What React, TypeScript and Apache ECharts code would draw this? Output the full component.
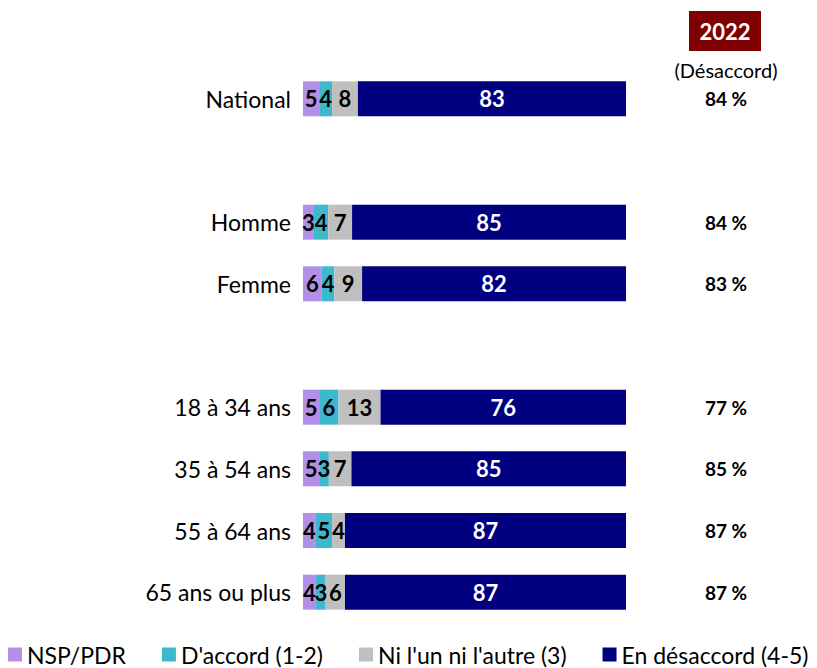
import React, { useEffect, useRef } from "react";
import * as echarts from "echarts";

const categories = ["National", " ", "Homme", "Femme", "  ", "18 à 34 ans", "35 à 54 ans", "55 à 64 ans", "65 ans ou plus"];
const seriesNames = ["NSP/PDR", "D'accord (1-2)", "Ni l'un ni l'autre (3)", "En désaccord (4-5)"];
// Unrounded shares (labels show rounded values)
const nspValues = [5, null, 3.4, 5.8, null, 5, 5, 4, 4];
const accordValues = [4, null, 4.4, 3.9, null, 6, 3, 5, 3];
const neutreValues = [8, null, 7.4, 8.6, null, 13, 7, 4, 6];
const desaccordValues = [83, null, 84.8, 81.7, null, 76, 85, 87, 87];
const desaccord2022 = [84, null, 84, 83, null, 77, 85, 87, 87];
const colors = ["#B28FE8", "#3DB8CD", "#BFBFBF", "#000080"];
const FONT = "Lato, 'Noto Sans', sans-serif";

export default function App() {
  const ref = useRef<HTMLDivElement>(null);
  useEffect(() => {
    if (!ref.current) return;
    const chart = echarts.init(ref.current, null, { renderer: "svg" });
    const valueSets = [nspValues, accordValues, neutreValues, desaccordValues];
    const barSeries = valueSets.map((vals, i) => ({
      name: seriesNames[i],
      type: "bar",
      stack: "total",
      xAxisIndex: 0,
      yAxisIndex: 0,
      barWidth: 35,
      itemStyle: { color: colors[i] },
      label: {
        show: true,
        position: "inside",
        color: i === 3 ? "#FFFFFF" : "#000000",
        fontWeight: "bold",
        fontSize: 22,
        fontFamily: FONT,
        formatter: (p: any) => (p.value == null ? "" : String(Math.round(p.value))),
      },
      data: vals,
    }));
    chart.setOption({
      animation: false,
      legend: {
        data: seriesNames,
        top: 643,
        left: 8,
        width: 809,
        padding: 0,
        itemWidth: 14,
        itemHeight: 14,
        itemGap: 36,
        icon: "rect",
        textStyle: { fontSize: 23, lineHeight: 20, fontFamily: FONT, color: "#000" },
      },
      grid: [
        { left: 303, right: 191, top: 68, height: 555, containLabel: false },
        { left: 690, width: 72, top: 68, height: 555, containLabel: false },
      ],
      xAxis: [
        { type: "value", min: 0, max: 100, show: false, gridIndex: 0 },
        { type: "value", min: 0, max: 1, show: false, gridIndex: 1 },
      ],
      yAxis: [
        {
          type: "category",
          data: categories,
          inverse: true,
          gridIndex: 0,
          axisLine: { show: false },
          axisTick: { show: false },
          axisLabel: { margin: 12, fontSize: 23, fontFamily: FONT, color: "#000" },
        },
        {
          type: "category",
          data: categories,
          inverse: true,
          gridIndex: 1,
          show: false,
        },
      ],
      graphic: [
        {
          type: "rect",
          shape: { x: 689, y: 11, width: 72, height: 40 },
          style: { fill: "#7F0000" },
        },
        {
          type: "text",
          x: 725,
          y: 31,
          style: {
            text: "2022",
            fill: "#FFFFFF",
            font: `bold 22px ${FONT}`,
            textAlign: "center",
            textVerticalAlign: "middle",
          },
        },
        {
          type: "text",
          x: 726,
          y: 70,
          style: {
            text: "(Désaccord)",
            fill: "#000000",
            font: `20px ${FONT}`,
            textAlign: "center",
            textVerticalAlign: "middle",
          },
        },
      ],
      series: [
        ...barSeries,
        {
          name: "2022",
          type: "bar",
          xAxisIndex: 1,
          yAxisIndex: 1,
          barWidth: 30,
          silent: true,
          itemStyle: { color: "rgba(0,0,0,0)" },
          label: {
            show: true,
            position: "inside",
            color: "#000000",
            fontWeight: "bold",
            fontSize: 19,
            fontFamily: FONT,
            formatter: (p: any) => `${desaccord2022[p.dataIndex]} %`,
          },
          data: desaccord2022.map((v) => (v == null ? null : 1)),
        },
      ],
    });
    return () => chart.dispose();
  }, []);
  return (
    <div
      ref={ref}
      style={{ position: "absolute", left: 0, top: 0, width: 817, height: 668 }}
    />
  );
}
